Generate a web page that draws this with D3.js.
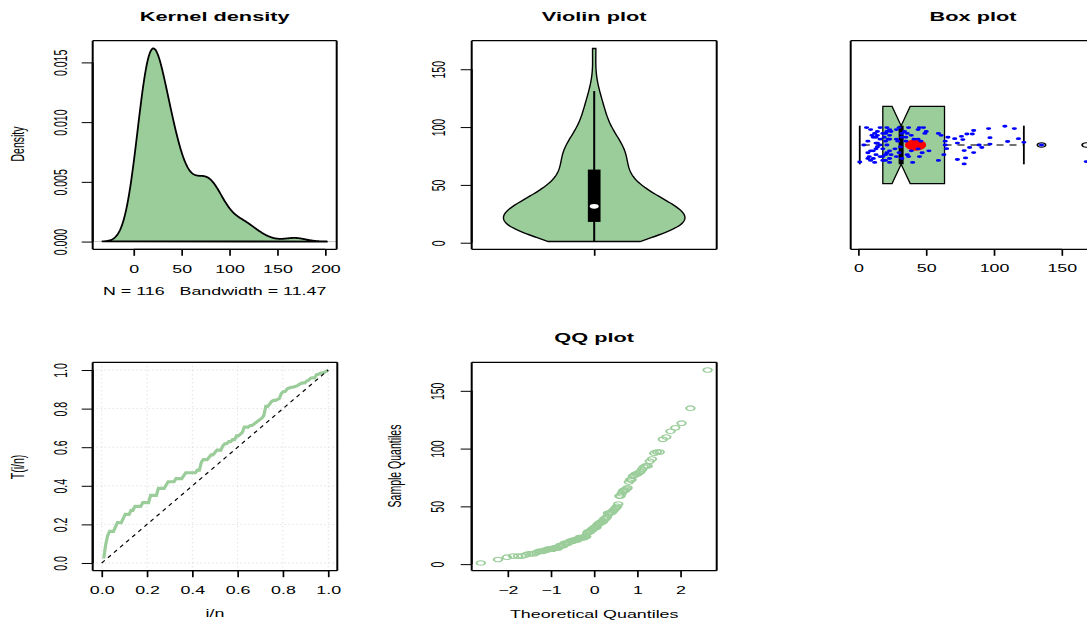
<!DOCTYPE html>
<html>
<head>
<meta charset="utf-8">
<title>Ozone summary plots</title>
<script src="https://cdn.jsdelivr.net/npm/d3@7"></script>
<style>
    body { margin: 0; background: white; }
    text { font-family: "Liberation Sans", Arial, sans-serif; fill: black; white-space: pre; }
</style>
</head>
<body>
<svg id="chart" width="1087" height="621"></svg>

<script>
    // sample (116 ozone readings, in recorded order)
    var ozone = [41, 36, 12, 18, 28, 23, 19, 8, 7, 16, 11, 14, 18, 14, 34, 6, 30, 11, 1, 11,
        4, 32, 23, 45, 115, 37, 29, 71, 39, 23, 21, 37, 20, 12, 13, 135, 49, 32, 64, 40,
        77, 97, 97, 85, 10, 27, 7, 48, 35, 61, 79, 63, 16, 80, 108, 20, 52, 82, 50, 64,
        59, 39, 9, 16, 78, 35, 66, 122, 89, 110, 44, 28, 65, 22, 59, 23, 31, 44, 21, 9,
        45, 168, 73, 76, 118, 84, 85, 96, 78, 73, 91, 47, 32, 20, 23, 21, 24, 44, 21, 28,
        9, 13, 46, 18, 13, 24, 16, 13, 23, 36, 7, 14, 30, 14, 18, 20]

    // vertical jitter of the strip points (box plot units)
    var jitterY = [0.03, -0.05, 0.06, -0.02, 0.08, -0.07, 0.04, -0.06, 0.02, 0.09, -0.03, 0.05, -0.08, 0.01, 0.07, 0.09, -0.04, 0.04, -0.088, -0.07,
        0.0, 0.06, 0.03, 0.09, 0.085, -0.06, 0.02, 0.033, -0.03, -0.09, 0.07, 0.09, -0.05, -0.09, 0.01, 0.0, 0.06, -0.07, 0.0, -0.09,
        0.028, 0.038, 0.005, 0.075, 0.05, -0.02, -0.04, 0.09, 0.04, 0.05, -0.067, -0.05, 0.0, 0.057, 0.097, 0.06, -0.03, -0.013, 0.07, 0.02,
        -0.08, 0.05, 0.08, -0.06, -0.029, 0.02, 0.04, 0.014, 0.0, 0.018, -0.02, -0.06, -0.019, 0.03, 0.06, 0.08, -0.01, 0.03, -0.04, -0.03,
        -0.06, -0.086, -0.075, 0.045, 0.033, 0.057, -0.039, 0.085, -0.098, 0.01, -0.013, -0.04, 0.04, -0.08, 0.05, 0.0, -0.05, 0.08, 0.09, 0.03,
        -0.08, 0.04, 0.02, 0.06, -0.05, 0.07, 0.03, -0.02, -0.03, 0.06, -0.07, -0.01, 0.09, 0.07, -0.06, 0.02]

    var bandwidth = 11.47      // density() bandwidth shown under panel 1
    var violinH = 13.5         // smoothing used by the violin
    var densityYTicks = [0, 0.005, 0.010, 0.015]
    var densityXTicks = [0, 50, 100, 150, 200]
    var valueTicks = [0, 50, 100, 150]
    var unitTicks = [0, 0.2, 0.4, 0.6, 0.8, 1.0]
    var qqXTicks = [-2, -1, 0, 1, 2]
    var titles = ["Kernel density", "Violin plot", "Box plot", "QQ plot"]

    var green = "#9BCD9B"
    var SX = 1.7     // the picture is stretched sideways
    var SH = 1.85    // same, for point symbols
    var FS = 10.5, FT = 12.8

    // plot regions (pixels)
    var p1 = {x0: 92.7, x1: 336.7, y0: 40.7, y1: 249.3}
    var p2 = {x0: 471.7, x1: 716.7, y0: 40.7, y1: 249.3}
    var p3 = {x0: 850.7, x1: 1095.3, y0: 40.7, y1: 249.3}
    var p4 = {x0: 92.7, x1: 337.3, y0: 362.3, y1: 570.7}
    var p5 = {x0: 471.7, x1: 716.7, y0: 362.3, y1: 570.7}

    var svg = d3.select("#chart")
    var sorted = ozone.slice().sort(d3.ascending)
    var n = sorted.length

    function ext(lo, hi) { var r = hi - lo; return [lo - 0.04 * r, hi + 0.04 * r] }

    function frame(p) {
        var g = svg.append("g").attr("stroke", "black")
        g.append("line").attr("x1", p.x0).attr("x2", p.x1).attr("y1", p.y0).attr("y2", p.y0).attr("stroke-width", 1.2)
        g.append("line").attr("x1", p.x0).attr("x2", p.x1).attr("y1", p.y1).attr("y2", p.y1).attr("stroke-width", 1.2)
        g.append("line").attr("x1", p.x0).attr("x2", p.x0).attr("y1", p.y0).attr("y2", p.y1).attr("stroke-width", 2)
        g.append("line").attr("x1", p.x1).attr("x2", p.x1).attr("y1", p.y0).attr("y2", p.y1).attr("stroke-width", 2)
    }

    function hText(x, y, s, size, bold) {
        svg.append("text")
            .attr("transform", "translate(" + x + "," + y + ") scale(" + SX + ",1)")
            .attr("text-anchor", "middle")
            .attr("xml:space", "preserve")
            .style("font-size", size + "px")
            .style("font-weight", bold ? "bold" : "normal")
            .text(s)
    }

    function vText(x, y, s, size) {
        svg.append("text")
            .attr("transform", "translate(" + x + "," + y + ") scale(" + SX + ",1) rotate(-90)")
            .attr("text-anchor", "middle")
            .style("font-size", size + "px")
            .text(s)
    }

    function bottomAxis(scale, ticks, fmt, y, labelY) {
        var g = svg.append("g")
            .attr("transform", "translate(0," + y + ")")
            .call(d3.axisBottom(scale).tickValues(ticks).tickFormat(fmt).tickSize(6.5).tickSizeOuter(0))
        g.select(".domain").remove()
        g.selectAll(".tick line").attr("stroke", "black").attr("stroke-width", 1.7)
        g.selectAll(".tick text")
            .attr("y", null).attr("dy", null)
            .attr("transform", "translate(0," + (labelY - y) + ") scale(" + SX + ",1)")
            .style("font-size", FS + "px")
            .style("font-family", '"Liberation Sans", Arial, sans-serif')
        g.append("line")
            .attr("x1", scale(ticks[0])).attr("x2", scale(ticks[ticks.length - 1]))
            .attr("stroke", "black").attr("stroke-width", 1.2)
    }

    function leftAxis(scale, ticks, fmt, x, labelX) {
        var g = svg.append("g")
            .attr("transform", "translate(" + x + ",0)")
            .call(d3.axisLeft(scale).tickValues(ticks).tickFormat(fmt).tickSize(11).tickSizeOuter(0))
        g.select(".domain").remove()
        g.selectAll(".tick line").attr("stroke", "black").attr("stroke-width", 1)
        g.selectAll(".tick text")
            .attr("x", null).attr("dy", null)
            .attr("transform", "translate(" + (labelX - x) + ",0) scale(" + SX + ",1) rotate(-90)")
            .style("text-anchor", "middle")
            .style("font-size", FS + "px")
            .style("font-family", '"Liberation Sans", Arial, sans-serif')
        g.append("line")
            .attr("y1", scale(ticks[0])).attr("y2", scale(ticks[ticks.length - 1]))
            .attr("stroke", "black").attr("stroke-width", 2)
    }

    function kde(data, h, grid) {
        var c = 1 / (data.length * h * Math.sqrt(2 * Math.PI))
        return grid.map(function(x) {
            var s = 0
            for (var v of data) { var z = (x - v) / h; s += Math.exp(-0.5 * z * z) }
            return [x, s * c]
        })
    }

    function qnorm(p) {
        var a = [-3.969683028665376e+01, 2.209460984245205e+02, -2.759285104469687e+02, 1.383577518672690e+02, -3.066479806614716e+01, 2.506628277459239e+00]
        var b = [-5.447609879822406e+01, 1.615858368580409e+02, -1.556989798598866e+02, 6.680131188771972e+01, -1.328068155288572e+01]
        var c = [-7.784894002430293e-03, -3.223964580411365e-01, -2.400758277161838e+00, -2.549732539343734e+00, 4.374664141464968e+00, 2.938163982698783e+00]
        var d = [7.784695709041462e-03, 3.224671290700398e-01, 2.445134137142996e+00, 3.754408661907416e+00]
        var q, r
        if (p < 0.02425) {
            q = Math.sqrt(-2 * Math.log(p))
            return (((((c[0]*q+c[1])*q+c[2])*q+c[3])*q+c[4])*q+c[5]) / ((((d[0]*q+d[1])*q+d[2])*q+d[3])*q+1)
        }
        if (p > 1 - 0.02425) return -qnorm(1 - p)
        q = p - 0.5; r = q * q
        return (((((a[0]*r+a[1])*r+a[2])*r+a[3])*r+a[4])*r+a[5])*q / (((((b[0]*r+b[1])*r+b[2])*r+b[3])*r+b[4])*r+1)
    }

    function fivenum(x) {
        var m = x.length, n4 = Math.floor((m + 3) / 2) / 2
        return [1, n4, (m + 1) / 2, m + 1 - n4, m].map(function(v) {
            return 0.5 * (x[Math.floor(v) - 1] + x[Math.ceil(v) - 1])
        })
    }

    function dot(x, y, r, fill, stroke, sw) {
        svg.append("circle")
            .attr("transform", "translate(" + x + "," + y + ") scale(" + SH + ",1)")
            .attr("r", r)
            .attr("fill", fill)
            .attr("stroke", stroke || "none")
            .attr("stroke-width", sw || 0)
    }

    var lo = sorted[0], hi = sorted[n - 1]

    //---------------- Kernel density
    var grid = d3.range(512).map(function(i) { return lo - 3 * bandwidth + i * (hi - lo + 6 * bandwidth) / 511 })
    var dens = kde(sorted, bandwidth, grid)
    var dmax = d3.max(dens, function(d) { return d[1] })
    var x1s = d3.scaleLinear().domain(ext(grid[0], grid[511])).range([p1.x0, p1.x1])
    var y1s = d3.scaleLinear().domain(ext(0, dmax)).range([p1.y1, p1.y0])

    svg.append("line").attr("x1", p1.x0).attr("x2", p1.x1).attr("y1", y1s(0)).attr("y2", y1s(0))
        .attr("stroke", "#c8c8c8").attr("stroke-width", 1)
    svg.append("path")
        .attr("d", d3.line().x(function(d) { return x1s(d[0]) }).y(function(d) { return y1s(d[1]) })(dens) + "Z")
        .attr("fill", green).attr("stroke", "black").attr("stroke-width", 1.8)
    frame(p1)
    bottomAxis(x1s, densityXTicks, d3.format("d"), p1.y1, 272.5)
    leftAxis(y1s, densityYTicks, d3.format(".3f"), p1.x0, 66.5)
    hText((p1.x0 + p1.x1) / 2, 21, titles[0], FT, true)
    hText((p1.x0 + p1.x1) / 2, 295, "N = " + n + "   Bandwidth = " + bandwidth.toFixed(2), FS)
    vText(24, 144, "Density", FS)

    //---------------- Violin
    var x2s = d3.scaleLinear().domain(ext(0.5, 1.5)).range([p2.x0, p2.x1])
    var y2s = d3.scaleLinear().domain(ext(lo, hi)).range([p2.y1, p2.y0])
    var vgrid = d3.range(200).map(function(i) { return lo + i * (hi - lo) / 199 })
    var vd = kde(sorted, violinH, vgrid)
    var vmax = d3.max(vd, function(d) { return d[1] })
    var half = function(d) { return 0.4 * d[1] / vmax }
    var outline = vd.map(function(d) { return [x2s(1 - half(d)), y2s(d[0])] })
        .concat(vd.slice().reverse().map(function(d) { return [x2s(1 + half(d)), y2s(d[0])] }))
    svg.append("path")
        .attr("d", d3.line()(outline) + "Z")
        .attr("fill", green).attr("stroke", "black").attr("stroke-width", 1.4)

    var q1 = d3.quantileSorted(sorted, 0.25), q3 = d3.quantileSorted(sorted, 0.75), med = d3.median(sorted)
    var iqr = q3 - q1
    var vUp = Math.min(hi, q3 + 1.5 * iqr), vLo = Math.max(lo, q1 - 1.5 * iqr)
    svg.append("line").attr("x1", x2s(1)).attr("x2", x2s(1)).attr("y1", y2s(vLo)).attr("y2", y2s(vUp))
        .attr("stroke", "black").attr("stroke-width", 2)
    svg.append("rect")
        .attr("x", x2s(1 - 0.028)).attr("width", x2s(1.028) - x2s(0.972))
        .attr("y", y2s(q3)).attr("height", y2s(q1) - y2s(q3))
        .attr("fill", "black")
    dot(x2s(1), y2s(med), 2.4, "white")
    frame(p2)
    bottomAxis(x2s, [1], function() { return "" }, p2.y1, 272.5)
    leftAxis(y2s, valueTicks, d3.format("d"), p2.x0, 445)
    hText((p2.x0 + p2.x1) / 2, 21, titles[1], FT, true)

    //---------------- Box plot (horizontal, notched)
    var x3s = d3.scaleLinear().domain(ext(lo, hi)).range([p3.x0, p3.x1])
    var y3s = d3.scaleLinear().domain(ext(0.5, 1.5)).range([p3.y1, p3.y0])
    var fn = fivenum(sorted)
    var hspread = fn[3] - fn[1]
    var wUp = d3.max(sorted.filter(function(v) { return v <= fn[3] + 1.5 * hspread }))
    var wLo = d3.min(sorted.filter(function(v) { return v >= fn[1] - 1.5 * hspread }))
    var outliers = sorted.filter(function(v) { return v > wUp || v < wLo })
    var nt = 1.58 * hspread / Math.sqrt(n)
    var bw2 = 0.2

    var bx = svg.append("g")
    bx.selectAll("line.whisk")
        .data([[fn[1], wLo], [fn[3], wUp]])
        .enter().append("line")
        .attr("x1", function(d) { return x3s(d[0]) }).attr("x2", function(d) { return x3s(d[1]) })
        .attr("y1", y3s(1)).attr("y2", y3s(1))
        .attr("stroke", "#444").attr("stroke-width", 1.4).attr("stroke-dasharray", "7,6")
    bx.selectAll("line.staple")
        .data([wLo, wUp])
        .enter().append("line")
        .attr("x1", function(d) { return x3s(d) }).attr("x2", function(d) { return x3s(d) })
        .attr("y1", y3s(1 - bw2 / 2)).attr("y2", y3s(1 + bw2 / 2))
        .attr("stroke", "black").attr("stroke-width", 1.8)
    var notchPts = [[fn[1], 1 - bw2], [fn[2] - nt, 1 - bw2], [fn[2], 1 - bw2 / 2], [fn[2] + nt, 1 - bw2], [fn[3], 1 - bw2],
        [fn[3], 1 + bw2], [fn[2] + nt, 1 + bw2], [fn[2], 1 + bw2 / 2], [fn[2] - nt, 1 + bw2], [fn[1], 1 + bw2]]
    bx.append("path")
        .attr("d", d3.line().x(function(d) { return x3s(d[0]) }).y(function(d) { return y3s(d[1]) })(notchPts) + "Z")
        .attr("fill", green).attr("stroke", "black").attr("stroke-width", 1.3)
    bx.append("line")
        .attr("x1", x3s(fn[2])).attr("x2", x3s(fn[2]))
        .attr("y1", y3s(1 - bw2 / 2)).attr("y2", y3s(1 + bw2 / 2))
        .attr("stroke", "black").attr("stroke-width", 5)
    outliers.forEach(function(v) { dot(x3s(v), y3s(1), 2.2, "none", "black", 1) })
    dot(x3s(d3.mean(sorted)), y3s(1), 5.8, "red")
    ozone.forEach(function(v, i) { dot(x3s(v), y3s(1 + jitterY[i]), 1.4, "blue") })
    frame(p3)
    bottomAxis(x3s, valueTicks, d3.format("d"), p3.y1, 272)
    hText((p3.x0 + p3.x1) / 2, 21, titles[2], FT, true)

    //---------------- TTT plot
    var total = d3.sum(sorted)
    var run = 0
    var ttt = sorted.map(function(v, i) {
        run += v
        return [(i + 1) / n, (run + (n - i - 1) * v) / total]
    })
    var x4s = d3.scaleLinear().domain(ext(0, 1)).range([p4.x0, p4.x1])
    var y4s = d3.scaleLinear().domain(ext(0, 1)).range([p4.y1, p4.y0])
    var gr = svg.append("g").attr("stroke", "#d3d3d3").attr("stroke-width", 1).attr("stroke-dasharray", "1,3")
    gr.selectAll("line.gx").data(unitTicks).enter().append("line")
        .attr("x1", function(d) { return x4s(d) }).attr("x2", function(d) { return x4s(d) })
        .attr("y1", p4.y0).attr("y2", p4.y1)
    gr.selectAll("line.gy").data(unitTicks).enter().append("line")
        .attr("y1", function(d) { return y4s(d) }).attr("y2", function(d) { return y4s(d) })
        .attr("x1", p4.x0).attr("x2", p4.x1)
    svg.append("path")
        .attr("d", d3.line().x(function(d) { return x4s(d[0]) }).y(function(d) { return y4s(d[1]) })(ttt))
        .attr("fill", "none").attr("stroke", green).attr("stroke-width", 3.2)
    svg.append("line")
        .attr("x1", x4s(0)).attr("y1", y4s(0)).attr("x2", x4s(1)).attr("y2", y4s(1))
        .attr("stroke", "black").attr("stroke-width", 1.2).attr("stroke-dasharray", "4,4")
    frame(p4)
    bottomAxis(x4s, unitTicks, d3.format(".1f"), p4.y1, 594)
    leftAxis(y4s, unitTicks, d3.format(".1f"), p4.x0, 66.5)
    hText((p4.x0 + p4.x1) / 2, 617, "i/n", FS)
    vText(24, 467, "T(i/n)", FS)

    //---------------- QQ plot
    var qq = sorted.map(function(v, i) { return [qnorm((i + 0.5) / n), v] })
    var x5s = d3.scaleLinear().domain(ext(qq[0][0], qq[n - 1][0])).range([p5.x0, p5.x1])
    var y5s = d3.scaleLinear().domain(ext(lo, hi)).range([p5.y1, p5.y0])
    qq.forEach(function(d) { dot(x5s(d[0]), y5s(d[1]), 2.3, "none", green, 1.1) })
    frame(p5)
    bottomAxis(x5s, qqXTicks, d3.format("d"), p5.y1, 594)
    leftAxis(y5s, valueTicks, d3.format("d"), p5.x0, 444)
    hText((p5.x0 + p5.x1) / 2, 342, titles[3], FT, true)
    hText((p5.x0 + p5.x1) / 2, 617.5, "Theoretical Quantiles", FS)
    vText(401, 466, "Sample Quantiles", FS)
</script>
</body>
</html>
